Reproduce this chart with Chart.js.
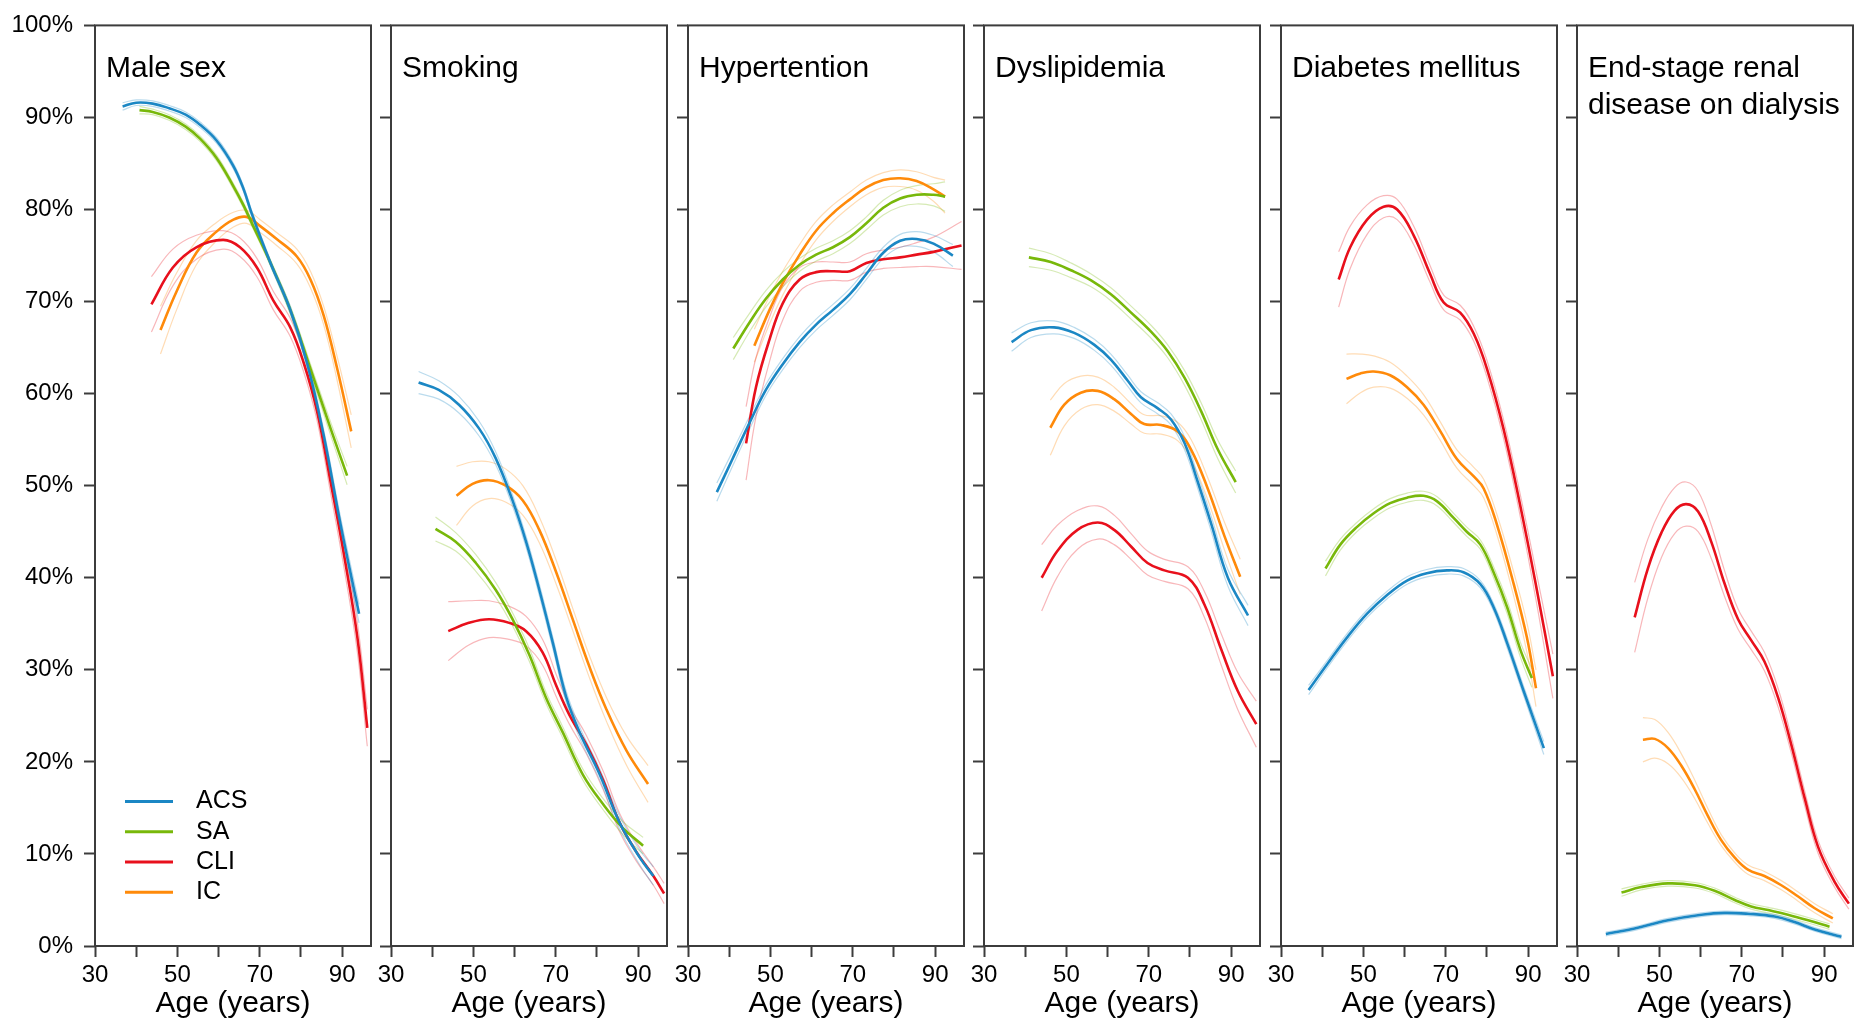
<!DOCTYPE html>
<html>
<head>
<meta charset="utf-8">
<script src="https://cdn.jsdelivr.net/npm/chart.js@4.4.0/dist/chart.umd.min.js"></script>
<style>
  html, body { margin: 0; padding: 0; background: #fff; overflow: hidden; }
  #wrap { position: relative; width: 1858px; height: 1027px; }
  #wrap canvas { position: absolute; top: 0; }
</style>
</head>
<body>
<div id="wrap"></div>
<script>
const groups = ["ACS", "SA", "CLI", "IC"];
const groupColors = ["#1b87c4", "#78b80a", "#e8101c", "#ff8a0a"];
const panelTitles = [
  ["Male sex"],
  ["Smoking"],
  ["Hypertention"],
  ["Dyslipidemia"],
  ["Diabetes mellitus"],
  ["End-stage renal", "disease on dialysis"],
];
const ageTicks = [30, 40, 50, 60, 70, 80, 90];
const ageLabels = [30, 50, 70, 90];
const pctTicks = [0, 10, 20, 30, 40, 50, 60, 70, 80, 90, 100];

// each point: [age, prevalence %, half-width of the confidence band]
const maleSex = {
  ACS: [[36.7,91.2,.4],[40,91.6,.3],[44,91.5,.3],[48,91.0,.3],[52,90.3,.3],[55.5,89.2,.3],[59.5,87.5,.3],[63.5,84.8,.3],[66,82.3,.3],[68.1,79.5,.3],[72.5,74.3,.3],[77.4,69.1,.4],[81.5,63.3,.5],[85.5,55.5,.6],[89.6,45.8,.8],[94.1,36.1,1]],
  SA: [[40.8,90.8,.4],[44,90.6,.3],[48,90.0,.3],[52,89.0,.3],[55.5,87.7,.3],[59.5,85.6,.3],[63.5,82.6,.3],[66,80.5,.3],[68.1,78.5,.3],[72.5,74.3,.3],[77.4,69.1,.4],[82.3,62.7,.5],[87.2,56.2,.7],[91.2,51.1,1]],
  CLI: [[43.7,69.7,3],[48.9,73.7,2],[54.6,75.9,1.3],[61.1,76.7,1],[65.2,75.9,1],[69.3,73.7,1],[73.3,70.1,1],[77.4,67.2,1],[80.7,63.3,1],[83.9,58.1,1],[87.2,50.4,1.2],[90.4,42.6,1.4],[93.7,33.5,1.6],[96.1,23.7,2]],
  IC: [[45.9,66.9,2.6],[49.8,71.1,2],[54.6,75.3,1.3],[59.5,77.6,1],[63.6,78.9,.8],[66.8,79.2,.7],[70.1,78.2,.7],[74.1,76.8,.7],[79.0,74.9,.8],[82.3,72.4,.9],[85.5,68.5,1],[88.8,62.7,1.3],[92.2,55.9,1.8]],
};
const smoking = {
  ACS: [[36.7,61.2,1.2],[41.6,60.4,1],[46.5,58.8,.9],[51.4,56.2,.8],[55.4,53.0,.7],[59.5,48.4,.6],[62.8,43.9,.6],[66.0,38.7,.6],[69.3,32.9,.6],[72.5,27.1,.6],[75.8,23.2,.6],[80.7,18.6,.6],[85.5,13.4,.7],[90.4,9.6,.8],[93.7,7.6,1]],
  SA: [[40.8,45.3,1.3],[45.7,43.9,1],[50.6,41.6,.9],[55.4,38.7,.8],[59.5,35.5,.7],[63.6,31.6,.7],[67.6,27.0,.6],[71.7,23.2,.6],[76.6,18.6,.6],[81.5,15.4,.6],[86.3,12.8,.7],[91.2,10.9,.9]],
  CLI: [[43.9,34.2,3.2],[48.9,35.1,2.4],[53.8,35.5,2],[58.7,35.1,1.8],[62.8,34.2,1.6],[66.8,31.9,1.4],[70.1,28.3,1.2],[73.3,25.1,1],[77.4,21.9,1],[81.5,18.0,1],[85.5,13.4,1],[89.6,10.2,1],[93.7,7.6,1],[96.3,5.7,1.1]],
  IC: [[45.9,48.9,3.2],[49.8,50.2,2.4],[53.8,50.6,2],[57.9,50.0,1.8],[62.0,48.4,1.6],[66.0,45.2,1.4],[70.1,40.6,1.3],[74.1,35.5,1.2],[78.2,30.3,1.2],[82.3,25.7,1.3],[87.2,21.2,1.6],[92.4,17.6,2]],
};
const hypertension = {
  ACS: [[37.0,49.3,1],[40.8,52.9,.8],[44.9,56.8,.7],[48.9,60.4,.6],[53.0,63.2,.6],[57.1,65.6,.6],[61.1,67.5,.6],[65.2,69.1,.6],[69.3,70.8,.6],[73.3,73.0,.6],[77.4,75.3,.6],[81.5,76.6,.7],[85.5,76.8,.8],[89.6,76.3,.9],[94.3,75.0,1.2]],
  SA: [[41.0,64.9,1.2],[44.9,67.7,1],[48.9,70.3,.9],[53.0,72.4,.8],[57.1,74.0,.7],[61.1,75.1,.7],[65.2,75.9,.7],[69.3,77.0,.7],[73.3,78.5,.7],[77.4,80.2,.8],[81.5,81.2,.9],[85.5,81.6,1],[89.6,81.6,1.2],[92.4,81.4,1.6]],
  CLI: [[44.1,54.6,4],[46.5,60.7,3.2],[49.8,65.9,2.4],[53.0,69.8,1.8],[57.1,72.4,1.3],[61.1,73.2,1.1],[65.2,73.3,1],[69.3,73.3,1],[73.3,74.2,1],[77.4,74.6,1],[81.5,74.8,1.1],[85.5,75.1,1.3],[89.6,75.4,1.6],[96.4,76.1,2.6]],
  IC: [[46.1,65.2,1.8],[49.8,69.1,1.5],[53.0,72.0,1.3],[57.1,75.1,1.1],[61.1,77.7,1],[65.2,79.6,.9],[69.3,81.1,.8],[73.3,82.4,.8],[77.4,83.2,.8],[81.5,83.4,.9],[85.5,83.1,1],[89.6,82.2,1.3],[92.4,81.4,1.8]],
};
const dyslipidemia = {
  ACS: [[36.7,65.6,1],[41.4,66.9,.8],[47.0,67.2,.7],[51.9,66.6,.6],[56.8,65.3,.6],[60.8,63.7,.6],[64.9,61.4,.6],[68.1,59.6,.6],[72.2,58.4,.6],[75.4,57.2,.6],[78.7,54.6,.7],[81.9,50.4,.7],[85.2,45.8,.8],[89.2,40.0,.9],[94.1,35.9,1.1]],
  SA: [[40.9,74.8,1],[46.2,74.3,.9],[51.1,73.4,.8],[56.0,72.3,.7],[60.8,70.8,.7],[65.7,68.8,.7],[70.6,66.7,.7],[74.6,64.6,.7],[78.7,61.7,.8],[82.7,58.1,.9],[86.8,53.9,1],[91.1,50.4,1.2]],
  CLI: [[44.0,40.0,3.6],[47.8,42.9,2.8],[52.7,45.2,2.1],[57.6,46.0,1.8],[61.6,45.2,1.6],[65.7,43.4,1.4],[69.7,41.6,1.3],[73.8,40.8,1.2],[79.5,40.0,1.2],[83.5,37.1,1.4],[87.6,32.2,1.7],[91.6,27.7,2],[96.1,24.1,2.5]],
  IC: [[46.1,56.3,3],[49.5,58.8,2.3],[53.5,60.1,1.8],[57.6,60.3,1.5],[61.6,59.4,1.3],[65.7,57.8,1.1],[68.9,56.7,1],[73.0,56.6,1],[77.0,55.9,1],[80.3,53.9,1.1],[84.3,49.7,1.2],[88.4,44.5,1.5],[92.2,40.1,1.9]],
};
const diabetes = {
  ACS: [[36.7,27.8,.5],[41.2,30.6,.4],[46.0,33.5,.4],[50.9,36.1,.4],[55.7,38.1,.4],[60.6,39.7,.4],[65.4,40.5,.4],[70.3,40.8,.4],[74.3,40.6,.4],[78.4,39.3,.4],[81.6,36.8,.4],[84.9,32.9,.5],[88.9,27.7,.5],[93.8,21.5,.7]],
  SA: [[40.8,41.0,.8],[44.4,43.6,.6],[48.4,45.5,.5],[52.5,47.0,.5],[56.5,48.1,.5],[60.6,48.7,.5],[64.6,48.9,.5],[67.9,48.3,.5],[71.9,46.5,.5],[75.1,45.0,.5],[78.4,43.6,.5],[81.6,40.6,.6],[84.9,36.8,.7],[88.1,32.2,.8],[90.9,29.1,1]],
  CLI: [[44.0,72.4,3],[46.8,75.9,2.3],[50.9,78.9,1.6],[54.9,80.3,1.2],[58.2,80.0,1.1],[62.2,77.2,1],[66.2,73.0,.9],[69.5,69.9,.8],[73.5,68.8,.8],[76.8,66.5,.8],[80.0,62.7,.9],[84.0,56.2,1],[88.1,47.8,1.2],[92.1,38.7,1.6],[96.0,29.3,2.4]],
  IC: [[45.9,61.6,2.7],[49.3,62.2,2.1],[52.5,62.4,1.7],[56.5,62.0,1.4],[60.6,60.7,1.2],[64.6,58.8,1.1],[68.7,55.9,1],[72.7,52.9,1],[76.8,51.0,1],[79.2,49.7,1],[82.4,45.8,1.1],[86.5,39.3,1.3],[89.7,33.5,1.6],[91.9,28.0,2]],
};
const esrd = {
  ACS: [[37.0,1.3,.2],[44.0,1.9,.2],[52.1,2.8,.2],[60.2,3.4,.2],[65.8,3.6,.2],[71.5,3.5,.2],[78.0,3.2,.2],[82.8,2.6,.2],[87.7,1.8,.2],[94.2,1.0,.2]],
  SA: [[40.8,5.8,.4],[45.6,6.4,.3],[52.1,6.8,.3],[58.6,6.6,.3],[63.4,6.0,.3],[68.3,5.0,.3],[72.3,4.3,.3],[76.4,3.9,.3],[81.2,3.4,.3],[86.1,2.8,.3],[91.3,2.1,.3]],
  CLI: [[44.0,35.7,3.8],[47.2,41.0,3.2],[50.5,44.9,2.7],[53.7,47.3,2.5],[56.5,48.0,2.4],[59.4,47.2,2.2],[62.6,43.9,1.8],[65.8,39.4,1.4],[69.1,35.5,1.1],[72.3,33.2,1],[75.5,30.9,1],[78.8,27.0,1],[82.0,21.9,.9],[85.3,16.0,.8],[88.5,10.8,.7],[92.5,7.0,.6],[96.0,4.6,.6]],
  IC: [[46.0,22.4,2.4],[48.9,22.5,2.1],[52.1,21.5,1.7],[55.3,19.6,1.3],[58.6,17.0,1],[61.8,14.1,.8],[65.0,11.5,.6],[68.3,9.6,.5],[71.5,8.3,.5],[75.5,7.6,.5],[79.6,6.6,.5],[83.6,5.4,.5],[87.7,4.1,.5],[92.1,3.0,.5]],
};
const panels = [maleSex, smoking, hypertension, dyslipidemia, diabetes, esrd];

const family = "'Liberation Sans', Arial, sans-serif";
const axisColor = "#3c3c3c";

function fade(hex, a) {
  const n = parseInt(hex.slice(1), 16);
  return `rgba(${(n >> 16) & 255},${(n >> 8) & 255},${n & 255},${a})`;
}

// box around the plot, panel heading and (first panel only) the legend
const framePlugin = {
  id: "frame",
  afterDraw(chart, args, opts) {
    const { ctx, chartArea: a } = chart;
    ctx.save();
    ctx.strokeStyle = axisColor;
    ctx.lineWidth = 2;
    ctx.strokeRect(a.left, a.top, a.right - a.left, a.bottom - a.top);
    ctx.fillStyle = "#000";
    ctx.font = `30px ${family}`;
    ctx.textBaseline = "alphabetic";
    opts.title.forEach((line, k) => ctx.fillText(line, a.left + 11, a.top + 52 + k * 37));
    if (opts.legend) {
      ctx.font = `25px ${family}`;
      ctx.textBaseline = "middle";
      groups.forEach((g, k) => {
        const y = a.top + 776 + k * 30.3;
        ctx.strokeStyle = groupColors[k];
        ctx.lineWidth = 3;
        ctx.beginPath();
        ctx.moveTo(a.left + 30, y);
        ctx.lineTo(a.left + 78, y);
        ctx.stroke();
        ctx.fillText(g, a.left + 101, y);
      });
    }
    ctx.restore();
  },
};

const wrap = document.getElementById("wrap");

panels.forEach((panel, i) => {
  const plotLeft = Math.round(95 + 296.4 * i);
  const axisW = i === 0 ? 95 : 20;
  const canvas = document.createElement("canvas");
  const w = axisW + 276 + 4;
  canvas.width = w;
  canvas.height = 1027;
  canvas.style.width = w + "px";
  canvas.style.height = "1027px";
  canvas.style.left = plotLeft - axisW + "px";
  wrap.appendChild(canvas);

  const datasets = [];
  groups.forEach((g, k) => {
    const pts = panel[g];
    datasets.push({
      label: g,
      data: pts.map((p) => ({ x: p[0], y: p[1] })),
      borderColor: groupColors[k],
      borderWidth: 2.6,
      order: 0,
    });
    datasets.push({
      label: g + " upper",
      data: pts.map((p) => ({ x: p[0], y: p[1] + p[2] })),
      borderColor: fade(groupColors[k], 0.3),
      borderWidth: 1.2,
      order: 1,
    });
    datasets.push({
      label: g + " lower",
      data: pts.map((p) => ({ x: p[0], y: p[1] - p[2] })),
      borderColor: fade(groupColors[k], 0.3),
      borderWidth: 1.2,
      order: 1,
    });
  });

  const gridOpts = {
    drawOnChartArea: false,
    drawTicks: true,
    tickLength: 11,
    tickWidth: 2,
    tickColor: axisColor,
  };

  new Chart(canvas, {
    type: "line",
    data: { datasets },
    plugins: [framePlugin],
    options: {
      responsive: false,
      animation: false,
      devicePixelRatio: 1,
      events: [],
      layout: { autoPadding: false, padding: { top: 16, right: 4, bottom: 0, left: 0 } },
      elements: {
        point: { radius: 0 },
        line: { tension: 0.4, fill: false },
      },
      scales: {
        x: {
          type: "linear",
          min: 30,
          max: 97,
          afterBuildTicks: (s) => { s.ticks = ageTicks.map((v) => ({ value: v })); },
          afterFit: (s) => { s.height = 81; },
          grid: gridOpts,
          border: { display: false },
          ticks: {
            color: "#000",
            font: { size: 24, family },
            padding: 4,
            maxRotation: 0,
            autoSkip: false,
            callback: (v) => (ageLabels.includes(v) ? String(v) : ""),
          },
          title: {
            display: true,
            text: "Age (years)",
            color: "#000",
            font: { size: 30, family },
            padding: { top: 0, bottom: 5 },
          },
        },
        y: {
          type: "linear",
          min: 0,
          max: 100,
          afterBuildTicks: (s) => { s.ticks = pctTicks.map((v) => ({ value: v })); },
          afterFit: (s) => { s.width = axisW; },
          grid: gridOpts,
          border: { display: false },
          ticks: {
            color: "#000",
            font: { size: 24, family },
            padding: 11,
            callback: (v) => (i === 0 ? v + "%" : ""),
          },
        },
      },
      plugins: {
        legend: { display: false },
        tooltip: { enabled: false },
        frame: { title: panelTitles[i], legend: i === 0 },
      },
    },
  });
});
</script>
</body>
</html>
